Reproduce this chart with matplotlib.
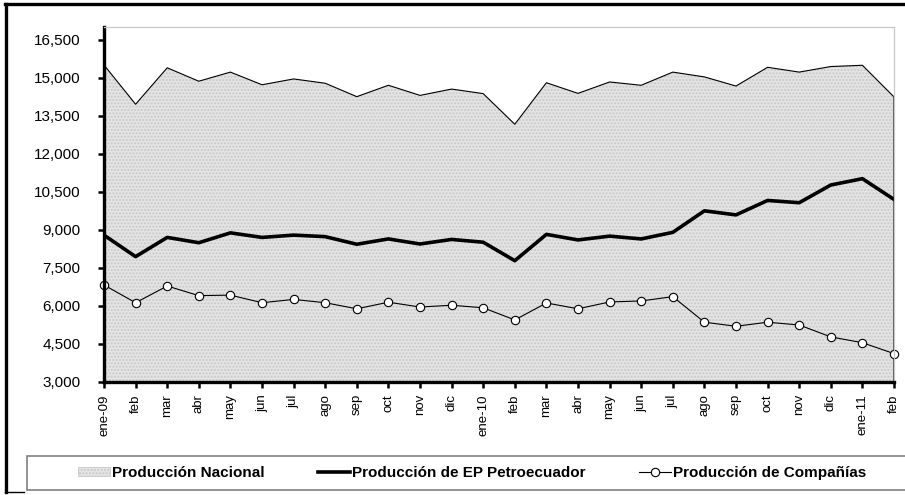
import matplotlib.pyplot as plt
from matplotlib.lines import Line2D
from matplotlib.patches import Patch, Rectangle

plt.rcParams['font.family'] = ['Liberation Sans', 'DejaVu Sans']

# monthly oil production, ene-2009 .. feb-2011
meses = ['ene-09', 'feb', 'mar', 'abr', 'may', 'jun', 'jul', 'ago', 'sep', 'oct', 'nov', 'dic',
         'ene-10', 'feb', 'mar', 'abr', 'may', 'jun', 'jul', 'ago', 'sep', 'oct', 'nov', 'dic',
         'ene-11', 'feb']
nacional = [15510, 13960, 15400, 14870, 15230, 14730, 14960, 14790, 14260, 14710, 14310, 14560,
            14380, 13170, 14810, 14390, 14840, 14710, 15230, 15040, 14680, 15420, 15230, 15450,
            15500, 14250]
petroecuador = [8790, 7940, 8700, 8490, 8880, 8700, 8790, 8730, 8430, 8640, 8440, 8620,
                8510, 7780, 8820, 8600, 8750, 8640, 8900, 9750, 9590, 10160, 10070, 10770,
                11020, 10200]
companias = [6820, 6120, 6780, 6400, 6420, 6120, 6250, 6120, 5880, 6140, 5950, 6020,
             5920, 5440, 6110, 5880, 6150, 6190, 6360, 5350, 5190, 5350, 5240, 4770,
             4540, 4110]

y_ticks = [3000, 4500, 6000, 7500, 9000, 10500, 12000, 13500, 15000, 16500]

FILL = '#e4e4e4'
HATCH = '#c8c8c8'

fig = plt.figure(figsize=(9.05, 4.95), dpi=100)
ax = fig.add_axes([104 / 905, 1 - 381.7 / 495, 790 / 905, (381.7 - 27.3) / 495])

x = list(range(len(meses)))
ax.fill_between(x, 3000, nacional, facecolor=FILL, edgecolor=HATCH, hatch='.....', linewidth=0)
ax.plot(x, nacional, color='black', lw=0.8)
ax.plot([x[-1], x[-1]], [3000, nacional[-1]], color='#404040', lw=1.2)
ax.plot(x, petroecuador, color='black', lw=2.6)
ax.plot(x, companias, color='black', lw=0.8, marker='o', markersize=6,
        markerfacecolor='white', markeredgecolor='black', markeredgewidth=0.8, clip_on=False)

ax.set_xlim(0, len(meses) - 1)
ax.set_ylim(3000, 17000)
ax.set_yticks(y_ticks)
ax.set_yticklabels([f'{v:,}' for v in y_ticks], fontsize=11)
ax.set_xticks(x)
ax.set_xticklabels(meses, rotation=90, fontsize=9.5)
ax.tick_params(axis='y', length=4, width=1.8, pad=13)
ax.tick_params(axis='x', length=4, width=1.8, pad=5)

for side in ['left', 'bottom']:
    ax.spines[side].set_linewidth(2.4)
    ax.spines[side].set_color('black')
for side in ['top', 'right']:
    ax.spines[side].set_linewidth(0.9)
    ax.spines[side].set_color('#c8c8c8')

# outer chart border (cut by the image edges)
fig.add_artist(Line2D([5 / 905, 1], [1 - 4 / 495] * 2, color='black', lw=2.4, transform=fig.transFigure))
fig.add_artist(Line2D([6 / 905] * 2, [1 - 4 / 495, 1 - 492 / 495], color='black', lw=2.4,
                      transform=fig.transFigure))
fig.add_artist(Line2D([5 / 905, 24 / 905], [1 - 492 / 495] * 2, color='black', lw=1,
                      transform=fig.transFigure))

# legend box
fig.add_artist(Rectangle((27 / 905, 1 - 490 / 495), 1.0, 34.3 / 495, facecolor='white',
                         edgecolor='#808080', lw=1.2, transform=fig.transFigure))

handles = [
    Patch(facecolor=FILL, edgecolor=HATCH, hatch='.....', lw=0.6),
    Line2D([], [], color='black', lw=2.6),
    Line2D([], [], color='black', lw=0.8, marker='o', markersize=6,
           markerfacecolor='white', markeredgecolor='black', markeredgewidth=0.8),
]
labels = ['Producción Nacional', 'Producción de EP Petroecuador', 'Producción de Compañías']
fig.legend(handles, labels, loc='center', bbox_to_anchor=(472 / 905, 1 - 472.8 / 495), ncol=3,
           frameon=False, prop={'weight': 'bold', 'size': 11}, handlelength=2.1,
           handleheight=0.55, handletextpad=0.12, columnspacing=3.5)

fig.savefig('out.png', dpi=100)
